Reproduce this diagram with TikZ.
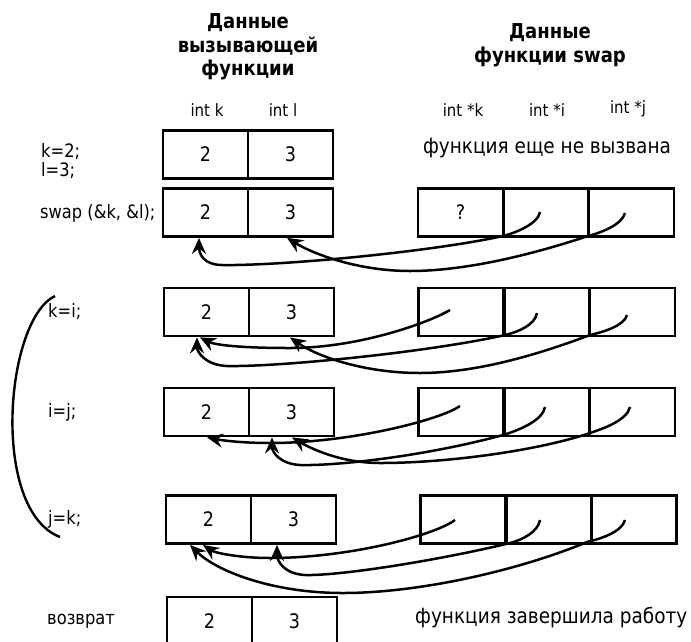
\documentclass[tikz,border=0pt]{standalone}
\usepackage{fontspec}
\setmainfont{DejaVu Sans}[FakeStretch=0.88]
\usetikzlibrary{arrows.meta}
\begin{document}
\begin{tikzpicture}[x=1pt,y=-1pt,
  cell/.style={draw, line width=2.8pt, minimum width=85pt, minimum height=48pt,
    inner sep=0pt, font=\fontsize{20}{22}\selectfont},
  lbl/.style={anchor=base west, inner sep=0pt, font=\fontsize{18.5}{21}\selectfont},
  var/.style={anchor=base, inner sep=0pt, font=\fontsize{17}{20}\selectfont},
  head/.style={align=center, inner sep=0pt, font=\fontsize{20.5}{23.5}\selectfont\bfseries},
  note/.style={anchor=base west, inner sep=0pt, font=\fontsize{21}{24}\selectfont},
  ptr/.style={line width=2.5pt, -{Stealth[length=16pt,width=14pt,inset=5.5pt]}},
]
\useasboundingbox (0,0) rectangle (691,641);

% column headings
\node[head] (hcaller) at (248,47) {Данные\\вызывающей\\функции};
\node[head] (hswap) at (550,45) {Данные\\функции swap};
\node[var] (vk) at (207,116) {int k};
\node[var] (vl) at (283,116) {int l};
\node[var] (vpk) at (463,116) {int *k};
\node[var] (vpi) at (547,116) {int *i};
\node[var] (vpj) at (628,113) {int *j};

% statements on the left
\node[lbl] (s0a) at (41,157) {k=2;};
\node[lbl] (s0b) at (41,176) {l=3;};
\node[lbl] (s1) at (40,218) {swap (\&k, \&l);};
\node[lbl] (s2) at (48,317) {k=i;};
\node[lbl] (s3) at (48,417) {i=j;};
\node[lbl] (s4) at (48,524) {j=k;};
\node[lbl] (s5) at (47,624) {возврат};
\draw[line width=2.4pt] (55,296) .. controls (5,320) and (-10,510) .. (60,537);

\node[note, anchor=base] (n0) at (547,153) {функция еще не вызвана};
\node[note] (n5) at (415,623) {функция завершила работу};

% k=2; l=3;
\node[cell] (a0k) at (205.5,154.5) {2};
\node[cell] (a0l) at (290.5,154.5) {3};

% swap(&k,&l)
\node[cell] (a1k) at (205.5,212.5) {2};
\node[cell] (a1l) at (290.5,212.5) {3};
\node[cell] (b1k) at (460.5,212.5) {?};
\node[cell] (b1i) at (546,212.5) {};
\node[cell] (b1j) at (631.5,212.5) {};
\coordinate (p1i) at (540,212);
\coordinate (p1j) at (625,213);
\draw[ptr] (p1i) .. controls (538,224) and (515,233) .. (503,236)
  .. controls (430,252) and (280,266) .. (222,265)
  .. controls (205,265) and (199,255) .. ([xshift=-6.5pt]a1k.south);
\draw[ptr] (p1j) .. controls (622,225) and (600,233) .. (588,236)
  .. controls (540,252) and (470,271) .. (410,271)
  .. controls (360,271) and (315,255) .. ([xshift=-3.5pt]a1l.south);

% k=i
\node[cell] (a2k) at (206.5,312) {2};
\node[cell] (a2l) at (291.5,312) {3};
\node[cell] (b2k) at (461,312) {};
\node[cell] (b2i) at (547,312) {};
\node[cell] (b2j) at (632.5,312) {};
\coordinate (p2k) at (450,310);
\coordinate (p2i) at (537,313);
\coordinate (p2j) at (627,315);
\draw[ptr] (p2k) .. controls (430,322) and (360,348) .. (290,348)
  .. controls (240,348) and (215,345) .. ([xshift=-6.5pt]a2k.south);
\draw[ptr] (p2i) .. controls (535,325) and (518,332) .. (505,335)
  .. controls (430,352) and (280,367) .. (227,366)
  .. controls (205,365) and (197,352) .. ([xshift=-9.5pt]a2k.south);
\draw[ptr] (p2j) .. controls (624,326) and (603,332) .. (590,335)
  .. controls (545,352) and (480,373) .. (420,373)
  .. controls (365,373) and (318,357) .. ([xshift=-1.5pt]a2l.south);

% i=j
\node[cell] (a3k) at (206.5,412) {2};
\node[cell] (a3l) at (291.5,412) {3};
\node[cell] (b3k) at (461,412) {};
\node[cell] (b3i) at (547,412) {};
\node[cell] (b3j) at (632.5,412) {};
\coordinate (p3k) at (460,406);
\coordinate (p3i) at (545,407);
\coordinate (p3j) at (630,407);
\draw[ptr] (p3k) .. controls (440,420) and (350,443) .. (270,443)
  .. controls (240,443) and (220,440) .. ([xshift=0.5pt]a3k.south);
\draw[ptr] (p3i) .. controls (543,420) and (520,430) .. (503,435)
  .. controls (430,455) and (340,466) .. (300,465)
  .. controls (280,464) and (272,452) .. ([xshift=-19.5pt]a3l.south);
\draw[ptr] (p3j) .. controls (627,420) and (605,428) .. (590,433)
  .. controls (540,450) and (450,463) .. (380,463)
  .. controls (340,463) and (310,448) .. ([xshift=0.5pt]a3l.south);

% j=k
\node[cell] (a4k) at (208.5,519.5) {2};
\node[cell] (a4l) at (293.5,519.5) {3};
\node[cell] (b4k) at (463,519.5) {};
\node[cell] (b4i) at (549,519.5) {};
\node[cell] (b4j) at (634,519.5) {};
\coordinate (p4k) at (455,520);
\coordinate (p4i) at (540,520);
\coordinate (p4j) at (625,520);
\draw[ptr] (p4k) .. controls (435,535) and (350,558) .. (270,558)
  .. controls (240,558) and (215,553) .. ([xshift=-5.5pt]a4k.south);
\draw[ptr] (p4i) .. controls (538,532) and (522,540) .. (510,543)
  .. controls (440,560) and (340,576) .. (305,575)
  .. controls (285,574) and (277,562) .. ([xshift=-16.5pt]a4l.south);
\draw[ptr] (p4j) .. controls (622,532) and (600,539) .. (587,542)
  .. controls (520,570) and (420,593) .. (343,593)
  .. controls (270,593) and (215,570) .. ([xshift=-18.5pt]a4k.south);

% after return
\node[cell] (a5k) at (209.5,621) {2};
\node[cell] (a5l) at (294.5,621) {3};
\end{tikzpicture}
\end{document}
